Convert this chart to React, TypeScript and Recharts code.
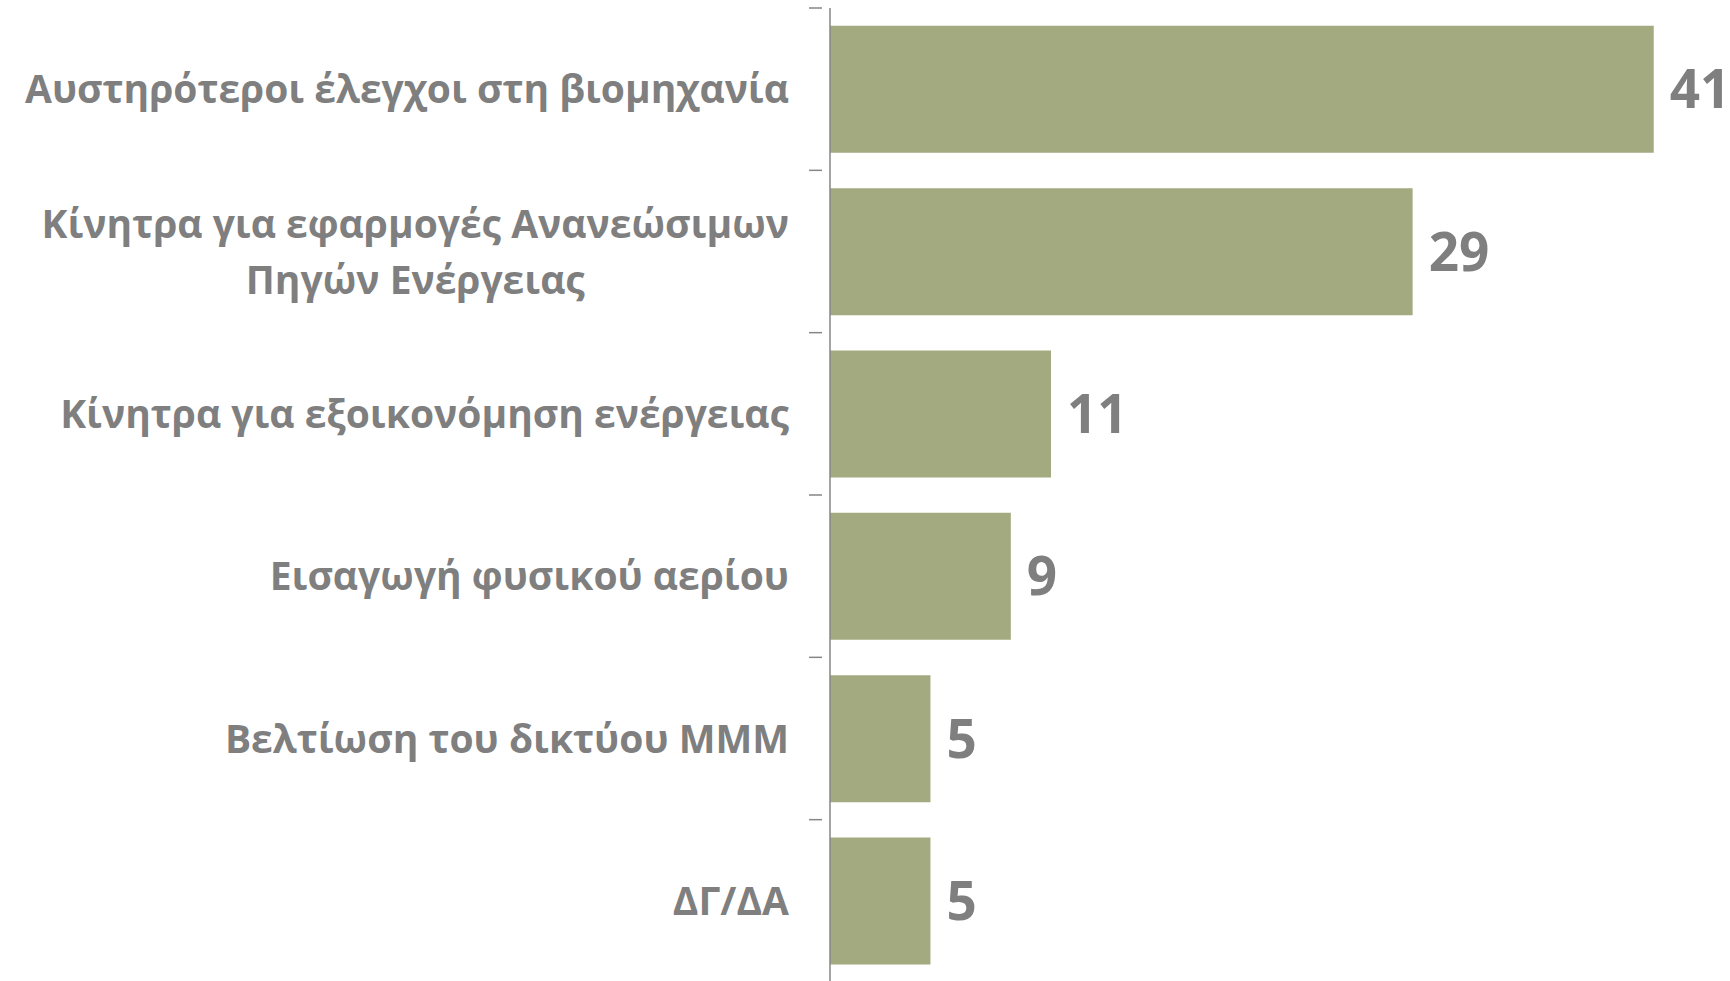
import { BarChart, Bar, XAxis, YAxis, LabelList } from 'recharts';

const categories = [
  'Αυστηρότεροι έλεγχοι στη βιομηχανία',
  'Κίνητρα για εφαρμογές Ανανεώσιμων Πηγών Ενέργειας',
  'Κίνητρα για εξοικονόμηση ενέργειας',
  'Εισαγωγή φυσικού αερίου',
  'Βελτίωση του δικτύου ΜΜΜ',
  'ΔΓ/ΔΑ',
];

// how each label wraps on the axis
const labelLines = [
  ['Αυστηρότεροι έλεγχοι στη βιομηχανία'],
  ['Κίνητρα για εφαρμογές Ανανεώσιμων', 'Πηγών Ενέργειας'],
  ['Κίνητρα για εξοικονόμηση ενέργειας'],
  ['Εισαγωγή φυσικού αερίου'],
  ['Βελτίωση του δικτύου ΜΜΜ'],
  ['ΔΓ/ΔΑ'],
];

const values = [41, 29, 11, 9, 5, 5];

const data = categories.map((name, i) => ({ name, value: values[i] }));

const W = 1730;
const H = 990;
const AXIS_W = 830;
const MARGIN = { top: 8, right: 16, left: 0, bottom: 8 };
const BAND = (H - MARGIN.top - MARGIN.bottom) / categories.length;
const GREY = '#7f7f7f';
const FONT = '"Open Sans", "Noto Sans", sans-serif';
const LABEL_SIZE = 39;

let ctx: CanvasRenderingContext2D | null = null;
function textWidth(s: string) {
  if (!ctx) ctx = document.createElement('canvas').getContext('2d');
  if (!ctx) return s.length * LABEL_SIZE * 0.55;
  ctx.font = `bold ${LABEL_SIZE}px "Open Sans"`;
  return ctx.measureText(s).width;
}

function CategoryTick(props: any) {
  const { x, y, payload, index } = props;
  const lines = labelLines[index] || [String(payload.value)];
  const right = x - 33;
  const maxW = Math.max(...lines.map(textWidth));
  const cx = right - maxW / 2;
  const lineH = 56;
  const top = y - ((lines.length - 1) * lineH) / 2;
  return (
    <g>
      <line x1={x - 13} x2={x} y1={y - BAND / 2} y2={y - BAND / 2} stroke="#868686" strokeWidth={1.5} />
      {index === categories.length - 1 && (
        <line x1={x - 13} x2={x} y1={y + BAND / 2} y2={y + BAND / 2} stroke="#868686" strokeWidth={1.5} />
      )}
      {lines.map((l: string, i: number) => (
        <text
          key={i}
          x={lines.length > 1 ? cx : right}
          y={top + i * lineH}
          dy="0.36em"
          textAnchor={lines.length > 1 ? 'middle' : 'end'}
          fill={GREY}
          fontFamily={FONT}
          fontWeight="bold"
          fontSize={LABEL_SIZE}
        >
          {l}
        </text>
      ))}
    </g>
  );
}

export default function App() {
  return (
    <div style={{ position: 'fixed', left: 0, top: 0, width: W, height: 981, overflow: 'hidden', background: '#fff' }}>
      <BarChart width={W} height={H} data={data} layout="vertical" margin={MARGIN} barCategoryGap="11%">
        <XAxis type="number" domain={[0, 44]} hide />
        <YAxis
          type="category"
          dataKey="name"
          width={AXIS_W}
          tickLine={false}
          axisLine={{ stroke: '#868686', strokeWidth: 1.5 }}
          tick={<CategoryTick />}
          interval={0}
        />
        <Bar dataKey="value" fill="#a4aa80" isAnimationActive={false}>
          <LabelList
            dataKey="value"
            position="right"
            offset={16}
            fill={GREY}
            fontFamily={FONT}
            fontWeight="bold"
            fontSize={53}
          />
        </Bar>
      </BarChart>
    </div>
  );
}
